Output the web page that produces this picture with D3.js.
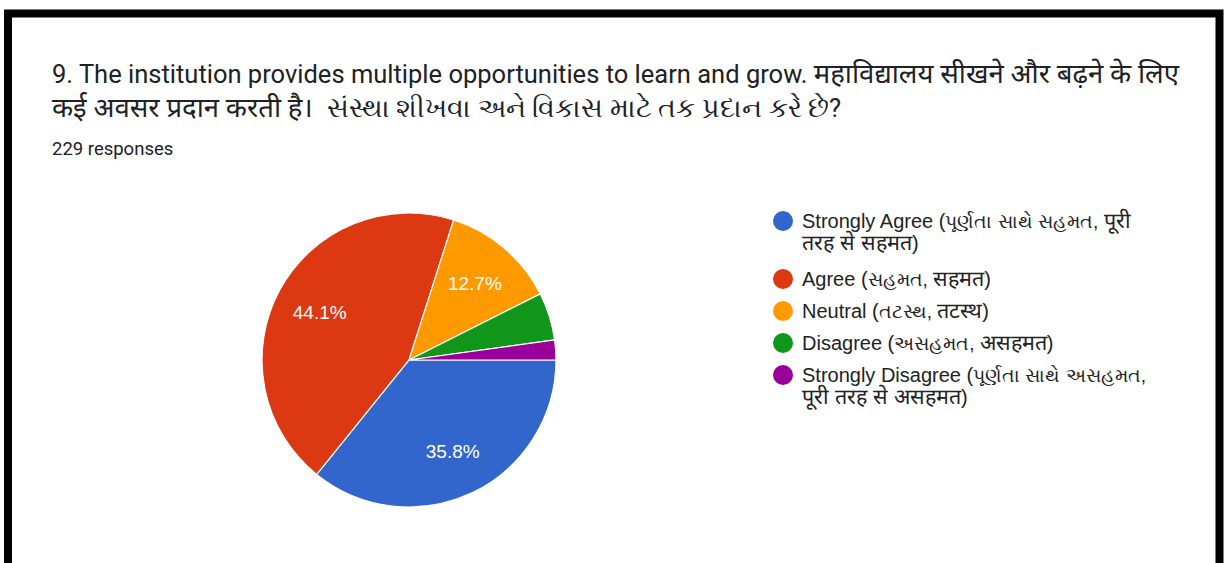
<!DOCTYPE html>
<html>
<head>
<meta charset="utf-8">
<script src="https://cdn.jsdelivr.net/npm/d3@7"></script>
<style>
  body { margin: 0; background: #fff; }
  svg { display: block; }
  .title { font-family: Roboto, "Noto Sans", sans-serif; font-size: 25.5px; fill: #202124; }
  .sub { font-family: Roboto, "Noto Sans", sans-serif; font-size: 18.5px; fill: #202124; }
  .legend text { font-family: Arial, "Liberation Sans", sans-serif; font-size: 20px; fill: #222; }
  .slice-label { font-family: Arial, "Liberation Sans", sans-serif; font-size: 19px; fill: #fff; }
</style>
</head>
<body>
<div id="chart"></div>
<script>
var titleLines = [
  "9. The institution provides multiple opportunities to learn and grow. महाविद्यालय सीखने और बढ़ने के लिए",
  "कई अवसर प्रदान करती है।  સંસ્થા શીખવા અને વિકાસ માટે તક પ્રદાન કરે છે?"
];
var responses = 229;

var categories = [
  "Strongly Agree (પૂર્ણતા સાથે સહમત, पूरी तरह से सहमत)",
  "Agree (સહમત, सहमत)",
  "Neutral (તટસ્થ, तटस्थ)",
  "Disagree (અસહમત, असहमत)",
  "Strongly Disagree (પૂર્ણતા સાથે અસહમત, पूरी तरह से असहमत)"
];
// legend lines as wrapped in the picture
var legendLines = [
  ["Strongly Agree (પૂર્ણતા સાથે સહમત, पूरी", "तरह से सहमत)"],
  ["Agree (સહમત, सहमत)"],
  ["Neutral (તટસ્થ, तटस्थ)"],
  ["Disagree (અસહમત, असहमत)"],
  ["Strongly Disagree (પૂર્ણતા સાથે અસહમત,", "पूरी तरह से असहमत)"]
];
var counts = [82, 101, 29, 12, 5];
var colors = ["#3366cc", "#dc3912", "#ff9900", "#109618", "#990099"];

var width = 1225, height = 563;

// fallback fonts for Hindi and Gujarati draw at different widths,
// so each script run gets its own size
function scriptOf(ch) {
    var c = ch.charCodeAt(0);
    if (c >= 0x0900 && c <= 0x097F) return "dev";
    if (c >= 0x0A80 && c <= 0x0AFF) return "guj";
    if (/[\s,]/.test(ch)) return null;
    return "lat";
}

function writeRuns(sel, str, sizes) {
    var runs = [];
    var cur = null;
    Array.from(str).forEach(function (ch) {
        var s = scriptOf(ch);
        if (cur && (s === null || s === cur.s)) {
            cur.text += ch;
        } else {
            cur = { s: s || "lat", text: ch };
            runs.push(cur);
        }
    });
    runs.forEach(function (r) {
        var t = sel.append("tspan").text(r.text);
        if (sizes[r.s]) t.style("font-size", sizes[r.s] + "px");
    });
}

var svg = d3.select("#chart").append("svg")
    .attr("width", width)
    .attr("height", height);

// frame
svg.append("rect")
    .attr("x", 8)
    .attr("y", 13.5)
    .attr("width", 1211.5)
    .attr("height", 600)
    .style("fill", "#fff")
    .style("stroke", "#000")
    .style("stroke-width", 8);

titleLines.forEach(function (line, i) {
    var t = svg.append("text")
        .attr("class", "title")
        .attr("x", 52)
        .attr("y", 83 + i * 34)
        .style("white-space", "pre");
    writeRuns(t, line, { dev: 27.5, guj: 26.5 });
});

svg.append("text")
    .attr("class", "sub")
    .attr("x", 52)
    .attr("y", 155)
    .text(responses + " responses");

// pie
var cx = 409, cy = 360, radius = 147;
var total = d3.sum(counts);

var pie = d3.pie()
    .sort(null)
    .startAngle(Math.PI / 2)
    .endAngle(Math.PI / 2 + 2 * Math.PI);

var arc = d3.arc().innerRadius(0).outerRadius(radius);
var labelArc = d3.arc().innerRadius(radius * 0.69).outerRadius(radius * 0.69);

var g = svg.append("g")
    .attr("transform", "translate(" + cx + "," + cy + ")");

var arcs = pie(counts);

g.selectAll("path")
    .data(arcs)
    .enter().append("path")
    .attr("d", arc)
    .style("fill", function (d, i) { return colors[i]; })
    .style("stroke", "#fff")
    .style("stroke-width", 1.2);

g.selectAll(".slice-label")
    .data(arcs.filter(function (d) { return d.value / total > 0.1; }))
    .enter().append("text")
    .attr("class", "slice-label")
    .attr("transform", function (d) { return "translate(" + labelArc.centroid(d) + ")"; })
    .attr("text-anchor", "middle")
    .attr("dy", "0.35em")
    .text(function (d) { return (d.value / total * 100).toFixed(1) + "%"; });

// legend
var legendY = [221, 279, 311, 343, 375];
var legend = svg.append("g")
    .attr("class", "legend");

var items = legend.selectAll("g")
    .data(categories)
    .enter().append("g")
    .attr("transform", function (d, i) { return "translate(783," + legendY[i] + ")"; });

items.append("circle")
    .attr("r", 10)
    .style("fill", function (d, i) { return colors[i]; });

items.each(function (d, i) {
    var item = d3.select(this);
    legendLines[i].forEach(function (line, j) {
        var t = item.append("text")
            .attr("x", 19)
            .attr("y", 7 + j * 22);
        writeRuns(t, line, { dev: 21.5, guj: 19 });
    });
});
</script>
</body>
</html>
